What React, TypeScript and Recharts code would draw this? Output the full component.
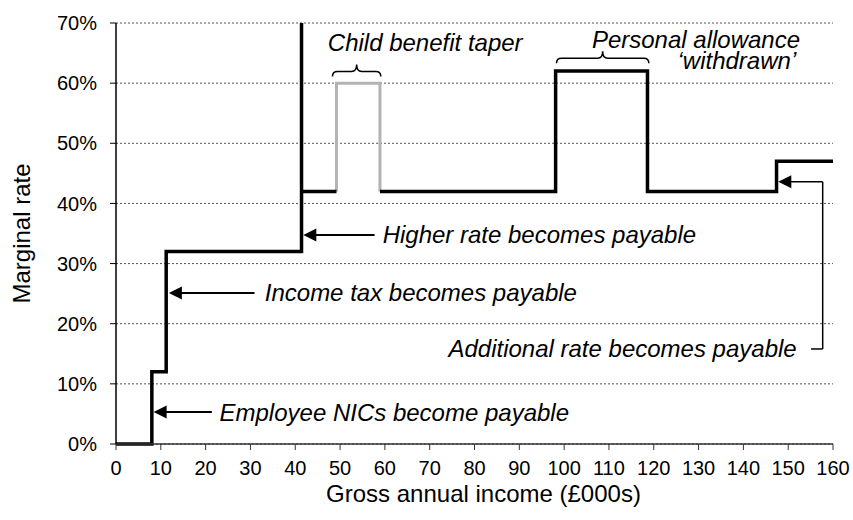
import React from 'react';
import { LineChart, Line, XAxis, YAxis, CartesianGrid, ReferenceLine, ReferenceDot, Label } from 'recharts';

// Black marginal-rate line (two pieces, gap where the child benefit taper is drawn in grey)
const blackAX = [0, 8, 11.2, 41.4, 41.4, 49.2];
const blackARate = [0, 12, 32, 70, 42, 42];
const blackBX = [58.9, 98.1, 118.6, 147.4, 160];
const blackBRate = [42, 62, 42, 47, 47];
// Grey child benefit taper
const greyX = [49.2, 49.2, 58.9];
const greyRate = [42, 60, 42];

const xTicks = [0, 10, 20, 30, 40, 50, 60, 70, 80, 90, 100, 110, 120, 130, 140, 150, 160];
const yTicks = [0, 10, 20, 30, 40, 50, 60, 70];

// Annotations
const noteText = [
  'Employee NICs become payable',
  'Income tax becomes payable',
  'Higher rate becomes payable',
  'Additional rate becomes payable',
  'Child benefit taper',
  'Personal allowance',
  '\u2018withdrawn\u2019',
];
const noteX = [23.1, 33.2, 59.5, 151.9, 69.0, 106.2, 125.3];
const noteY = [5.3, 25.1, 34.75, 15.8, 66.8, 67.3, 63.7];
const noteAnchor = ['start', 'start', 'start', 'end', 'middle', 'start', 'start'];

const arrowTailX = [21.4, 30.9, 57.7, 157.7];
const arrowTipX = [8.4, 11.8, 41.8, 147.8];
const arrowY = [5.3, 25.1, 34.75, 43.6];
const arrowWidth = [2, 2, 2, 1.5];

const connX = [155.1, 157.7, 157.7];
const connY = [15.8, 15.8, 43.6];

const braceX1 = [48.3, 98.3];
const braceX2 = [59.1, 118.9];
const braceY = [61.1, 63.3];

const toPoints = (xs: number[], ys: number[]) => xs.map((x, i) => ({ x, y: ys[i] }));
const blackA = toPoints(blackAX, blackARate);
const blackB = toPoints(blackBX, blackBRate);
const grey = toPoints(greyX, greyRate);

const FONT = '"Liberation Sans", Arial, sans-serif';

const makeArrow = (w: number) => (props: any) => {
  const { x1, y1, x2, y2 } = props;
  const dx = x2 - x1;
  const dy = y2 - y1;
  const len = Math.sqrt(dx * dx + dy * dy) || 1;
  const ux = dx / len;
  const uy = dy / len;
  const head = 13;
  const hw = 6.5;
  const bx = x2 - ux * head;
  const by = y2 - uy * head;
  const pts = `${x2},${y2} ${bx - uy * hw},${by + ux * hw} ${bx + uy * hw},${by - ux * hw}`;
  return (
    <g>
      <line x1={x1} y1={y1} x2={bx + ux} y2={by + uy} stroke="#000" strokeWidth={w} />
      <polygon points={pts} fill="#000" />
    </g>
  );
};

const BraceShape = (props: any) => {
  const { x1, y1, x2 } = props;
  const y = y1;
  const xm = (x1 + x2) / 2;
  const h = 12;
  const c = 5;
  const d = `M ${x1} ${y} Q ${x1} ${y - c} ${x1 + c} ${y - c} L ${xm - c} ${y - c} Q ${xm} ${y - c} ${xm} ${y - h} Q ${xm} ${y - c} ${xm + c} ${y - c} L ${x2 - c} ${y - c} Q ${x2} ${y - c} ${x2} ${y}`;
  return <path d={d} fill="none" stroke="#000" strokeWidth={1.5} />;
};

const makeNote = (text: string, anchor: string) => (props: any) => {
  const vb = props.viewBox || {};
  const cx = (vb.x || 0) + (vb.width || 0) / 2;
  const cy = (vb.y || 0) + (vb.height || 0) / 2;
  return (
    <text
      x={cx}
      y={cy}
      dy="0.35em"
      textAnchor={anchor as any}
      fontSize={24}
      fontStyle="italic"
      fontFamily={FONT}
      fill="#000"
    >
      {text}
    </text>
  );
};

const YTitle = (props: any) => {
  const vb = props.viewBox || {};
  const x = (vb.x || 0) + 30;
  const y = (vb.y || 0) + (vb.height || 0) / 2;
  return (
    <text x={x} y={y} transform={`rotate(-90, ${x}, ${y})`} textAnchor="middle" fontSize={24} fontFamily={FONT} fill="#000">
      Marginal rate
    </text>
  );
};

const XTitle = (props: any) => {
  const vb = props.viewBox || {};
  const x = (vb.x || 0) + (vb.width || 0) / 2 + 9;
  const y = (vb.y || 0) + 58;
  return (
    <text x={x} y={y} textAnchor="middle" fontSize={24} fontFamily={FONT} fill="#000">
      Gross annual income (£000s)
    </text>
  );
};

export default function App() {
  return (
    <div style={{ position: 'absolute', left: 0, top: 0, width: 853, height: 520, background: '#fff' }}>
      <LineChart
        width={853}
        height={520}
        margin={{ top: 23, right: 20, bottom: 0, left: 0 }}
        style={{ fontFamily: FONT }}
      >
        <CartesianGrid horizontal vertical={false} stroke="#555" strokeDasharray="2 2" strokeWidth={1} />
        <XAxis
          dataKey="x"
          type="number"
          domain={[0, 160]}
          ticks={xTicks}
          interval={0}
          height={76}
          tickSize={6}
          tickMargin={11}
          axisLine={{ stroke: '#333', strokeWidth: 1.5 }}
          tickLine={{ stroke: '#333', strokeWidth: 1 }}
          tick={{ fontSize: 20, fill: '#000', fontFamily: FONT }}
          allowDuplicatedCategory={false}
        >
          <Label content={XTitle} />
        </XAxis>
        <YAxis
          type="number"
          domain={[0, 70]}
          ticks={yTicks}
          interval={0}
          width={116}
          tickSize={6}
          tickMargin={13}
          tickFormatter={(v: number) => `${v}%`}
          axisLine={{ stroke: '#000', strokeWidth: 1.5 }}
          tickLine={{ stroke: '#000', strokeWidth: 1 }}
          tick={{ fontSize: 20, fill: '#000', fontFamily: FONT }}
        >
          <Label content={YTitle} />
        </YAxis>

        <Line data={grey} dataKey="y" type="stepAfter" stroke="#b3b3b3" strokeWidth={3} dot={false} activeDot={false} isAnimationActive={false} strokeLinejoin="miter" />
        <Line data={blackA} dataKey="y" type="stepAfter" stroke="#000" strokeWidth={3.5} dot={false} activeDot={false} isAnimationActive={false} strokeLinejoin="miter" />
        <Line data={blackB} dataKey="y" type="stepAfter" stroke="#000" strokeWidth={3.5} dot={false} activeDot={false} isAnimationActive={false} strokeLinejoin="miter" />

        {arrowTailX.map((tx, i) => (
          <ReferenceLine
            key={`arrow-${i}`}
            segment={[{ x: tx, y: arrowY[i] }, { x: arrowTipX[i], y: arrowY[i] }]}
            ifOverflow="visible"
            stroke="#000"
            shape={makeArrow(arrowWidth[i])}
          />
        ))}
        {connX.slice(0, -1).map((cx, i) => (
          <ReferenceLine
            key={`conn-${i}`}
            segment={[{ x: cx, y: connY[i] }, { x: connX[i + 1], y: connY[i + 1] }]}
            ifOverflow="visible"
            stroke="#000"
            strokeWidth={1.5}
          />
        ))}
        {braceX1.map((bx, i) => (
          <ReferenceLine
            key={`brace-${i}`}
            segment={[{ x: bx, y: braceY[i] }, { x: braceX2[i], y: braceY[i] }]}
            ifOverflow="visible"
            stroke="#000"
            shape={BraceShape}
          />
        ))}
        {noteText.map((t, i) => (
          <ReferenceDot
            key={`note-${i}`}
            x={noteX[i]}
            y={noteY[i]}
            r={1}
            fill="none"
            stroke="none"
            ifOverflow="visible"
            label={makeNote(t, noteAnchor[i])}
          />
        ))}
      </LineChart>
    </div>
  );
}
